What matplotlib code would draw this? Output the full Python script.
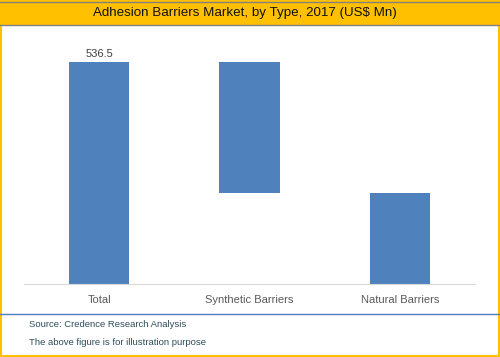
import matplotlib.pyplot as plt
from matplotlib.patches import Rectangle

# data
categories = ['Total', 'Synthetic Barriers', 'Natural Barriers']
total = 536.5
segments = [318.0, 218.5]  # synthetic, natural

fig = plt.figure(figsize=(5, 3.57), dpi=100)
W, H = 500, 357

def fy(py):
    return 1 - py / H

# outer gold border
fig.patches.append(Rectangle((0.002, 0.003), 0.996, 0.994, transform=fig.transFigure,
                             fill=False, edgecolor='#FFC000', linewidth=1.5))
# title banner
fig.patches.append(Rectangle((0, fy(24.5)), 1, (24.5 - 1.5) / H, transform=fig.transFigure,
                             facecolor='#FFC000', edgecolor='none'))
fig.add_artist(plt.Line2D([0, 1], [fy(1.5), fy(1.5)], color='#808080', lw=1))
fig.add_artist(plt.Line2D([0, 1], [fy(24.5), fy(24.5)], color='#808080', lw=1))
fig.text(0.49, fy(13), 'Adhesion Barriers Market, by Type, 2017 (US$ Mn)', ha='center', va='center',
         fontsize=9.6, family='Liberation Sans', color='#111111')

# separator and footer
fig.add_artist(plt.Line2D([0, 1], [fy(313.5), fy(313.5)], color='#4F81BD', lw=1))
fig.text(29 / W, fy(324.5), 'Source: Credence Research Analysis', ha='left', va='center',
         fontsize=6.8, family='Liberation Sans', color='#2E4D5A')
fig.text(29 / W, fy(342.5), 'The above figure is for illustration purpose', ha='left', va='center',
         fontsize=6.8, family='Liberation Sans', color='#2E4D5A')

# chart
ymax = 600
base_px, top_px = 283.5, 62
px_per = (base_px - top_px) / total
ax_top_px = base_px - ymax * px_per
ax = fig.add_axes([24 / W, fy(base_px), (475 - 24) / W, (base_px - ax_top_px) / H])

bottoms = [0, total - segments[0], 0]
heights = [total, segments[0], segments[1]]
x = range(len(categories))
ax.bar(x, heights, bottom=bottoms, width=0.4, color='#4F81BD')
ax.text(0, total + 8, f'{total:.1f}', ha='center', va='bottom', fontsize=8, family='Liberation Sans',
        color='#404040')

ax.set_xlim(-0.5, 2.5)
ax.set_ylim(0, ymax)
ax.set_xticks(list(x))
ax.set_xticklabels(categories, fontsize=8, color='#595959', family='Liberation Sans')
ax.tick_params(axis='x', length=0, pad=8)
ax.set_yticks([])
for s in ['top', 'right', 'left']:
    ax.spines[s].set_visible(False)
ax.spines['bottom'].set_color('#D9D9D9')
ax.patch.set_alpha(0)

fig.savefig('out.png', dpi=100)
